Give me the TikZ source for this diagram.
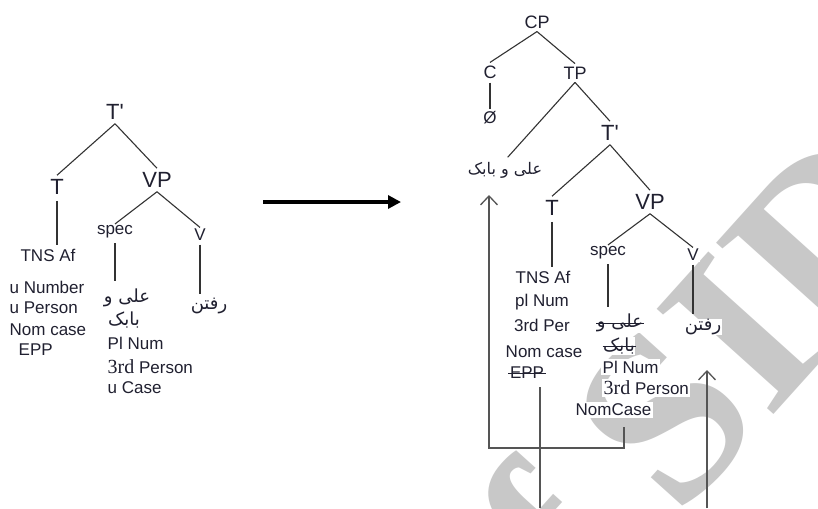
\documentclass[tikz,border=0pt]{standalone}
\usepackage{fontspec}
\setmainfont{Liberation Sans}
\newfontfamily\fa[Script=Arabic]{DejaVu Sans}
\newfontfamily\numserif{Liberation Serif}
\TeXXeTstate=1
\usetikzlibrary{arrows.meta}
\definecolor{ink}{HTML}{202030}
\definecolor{branchclr}{HTML}{333333}
\definecolor{moveclr}{HTML}{555555}
\definecolor{wmclr}{HTML}{C8C8C8}
\tikzset{
  lbl/.style={text=ink, fill=white, inner sep=1.5pt},
  big/.style={lbl, font=\fontsize{22}{22}\selectfont, inner sep=4pt},
  mid/.style={lbl, font=\fontsize{18}{18}\selectfont, inner sep=3pt},
  small/.style={lbl, font=\fontsize{17}{17}\selectfont},
  per/.style={lbl, font=\fa\fontsize{18}{18}\selectfont, inner sep=0.5pt},
  persubj/.style={lbl, font=\fa\fontsize{16}{16}\selectfont},
  branch/.style={draw=branchclr, line width=1.1pt},
  movepath/.style={draw=moveclr, line width=1.3pt},
  strike/.style={draw=ink, line width=1pt},
  barb/.style={-{Straight Barb[length=9pt,width=17pt]}},
}
\newcommand{\thrd}{{\numserif\fontsize{20}{20}\selectfont 3rd}}
\newcommand{\tbar}{T\textquotesingle}
\begin{document}
\begin{tikzpicture}[x=1pt,y=-1pt]
\useasboundingbox (0,0) rectangle (818,508);
\fill[white] (0,0) rectangle (818,508);
% faint stamp across the lower right
\node[text=wmclr, font=\numserif\bfseries\fontsize{240}{240}\selectfont,
      rotate=48, inner sep=0] (stamp) at (664,412) {of SID};

% ---------- left tree ----------
\node[big] (lTb) at (115,112) {\tbar};
\node[big] (lT) at (57,187) {T};
\node[big] (lVP) at (157,180) {VP};
\node[small] (lTNS) at (48,255) {TNS Af};
\node[small, anchor=west] (lf1) at (8,287) {u Number};
\node[small, anchor=west] (lf2) at (8,308) {u Person};
\node[small, anchor=west] (lf3) at (8,330) {Nom case};
\node[small, anchor=west] (lf4) at (17,350) {EPP};
\node[small] (lspec) at (115,232) {spec};
\node[small] (lV) at (200,235) {V};
\node[per] (ls1) at (127,298) {\beginR علی و\endR};
\node[per] (ls2) at (124,320) {\beginR بابک\endR};
\node[small, anchor=west] (ls3) at (106,343) {Pl Num};
\node[small, anchor=west] (ls4) at (106,367) {\thrd\ Person};
\node[small, anchor=west] (ls5) at (106,388) {u Case};
\node[per] (lrft) at (209,306) {\beginR رفتن\endR};

\draw[branch] (lTb.south) -- (lT.north);
\draw[branch] (lTb.south) -- (lVP.north);
\draw[branch, shorten <=2pt, shorten >=2pt] (lT.south) -- (lT.south |- lTNS.north);
\draw[branch] (lVP.south) -- (lspec.north);
\draw[branch] (lVP.south) -- (lV.north);
\draw[branch, shorten <=3pt, shorten >=7pt] (lspec.south) -- (lspec.south |- ls1.north);
\draw[branch, shorten <=2pt, shorten >=3pt] (lV.south) -- (lV.south |- lrft.north);

% ---------- derivation arrow ----------
\coordinate (arrA) at (263,202);
\coordinate (arrB) at (401,202);
\draw[line width=3.2pt, -{Triangle[length=13pt,width=13pt]}] (arrA) -- (arrB);

% ---------- right tree ----------
\node[mid] (rCP) at (537,22) {CP};
\node[mid] (rC) at (490,72) {C};
\node[mid] (rTP) at (575,73) {TP};
\node[small] (rO) at (490,118) {Ø};
\node[persubj] (subj) at (505,170) {\beginR علی و بابک\endR};
\node[big] (rTb) at (610,133) {\tbar};
\node[big] (rT) at (552,208) {T};
\node[big] (rVP) at (650,202) {VP};
\node[small] (rTNS) at (543,277) {TNS Af};
\node[small] (rn1) at (542,302) {pl Num};
\node[small] (rn2) at (542,325) {3rd Per};
\node[small] (rn3) at (544,352) {Nom case};
\node[small] (rn4) at (527,373) {EPP};
\node[small] (rspec) at (608,253) {spec};
\node[small] (rV) at (693,255) {V};
\node[per] (rs1) at (620,323) {\beginR علی و\endR};
\node[per] (rs2) at (619,346) {\beginR بابک\endR};
\node[small, anchor=west] (rs3) at (601,367) {Pl Num};
\node[small, anchor=west] (rs4) at (602,388) {\thrd\ Person};
\node[small, anchor=west] (rs5) at (574,410) {NomCase};
\node[per] (rrft) at (703,327) {\beginR رفتن\endR};

\draw[branch] (rCP.south) -- (rC.north);
\draw[branch] (rCP.south) -- (rTP.north);
\draw[branch, shorten <=1pt, shorten >=1pt] (rC.south) -- (rO.north);
\draw[branch, shorten >=4pt] (rTP.south) -- (subj.north);
\draw[branch] (rTP.south) -- (rTb.north);
\draw[branch] (rTb.south) -- (rT.north);
\draw[branch] (rTb.south) -- (rVP.north);
\draw[branch, shorten <=2pt, shorten >=2pt] (rT.south) -- (rT.south |- rTNS.north);
\draw[branch] (rVP.south) -- (rspec.north);
\draw[branch] (rVP.south) -- (rV.north);
\draw[branch, shorten <=3pt, shorten >=6pt] (rspec.south) -- (rspec.south |- rs1.north);
\draw[branch, shorten <=2pt, shorten >=4pt] (rV.south) -- (rV.south |- rrft.north);

% struck-out features
\draw[strike] (rn4.west) -- (rn4.east);
\draw[strike] (rs1.west) -- (rs1.east);
\draw[strike] (rs2.west) -- (rs2.east);

% movement paths
\coordinate (mvA) at (624,427);
\coordinate (mvB) at (489,448);
\coordinate (mvC) at (489,195);
\draw[movepath, barb] (mvA) |- (mvB) -- (mvC);
\coordinate (epA) at (540,387);
\coordinate (epB) at (540,508);
\draw[movepath] (epA) -- (epB);
\coordinate (vA) at (707,508);
\coordinate (vB) at (707,370);
\draw[movepath, barb] (vA) -- (vB);
\end{tikzpicture}
\end{document}
